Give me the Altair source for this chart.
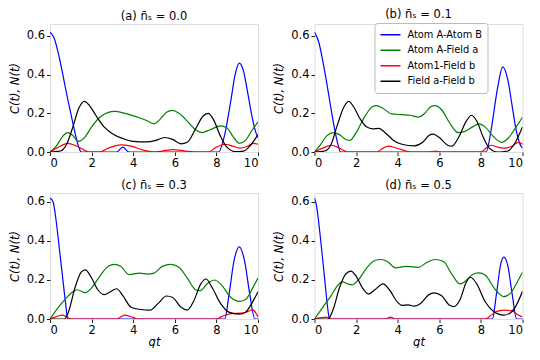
import altair as alt
import pandas as pd

SERIES = ["Atom A-Atom B", "Atom A-Field a", "Atom1-Field b", "Field a-Field b"]
COLORS = ["#0000ff", "#008000", "#ff0000", "#000000"]
TITLES = ["(a) n\u0304\u209b = 0.0", "(b) n\u0304\u209b = 0.1", "(c) n\u0304\u209b = 0.3", "(d) n\u0304\u209b = 0.5"]
X_TICKS = [0, 2, 4, 6, 8, 10]
Y_TICKS = [0.0, 0.2, 0.4, 0.6]

# panel (a)
A_AB = [(0, 0.62), (0.2, 0.59), (0.4, 0.51), (0.6, 0.41), (0.8, 0.30), (1.0, 0.20), (1.2, 0.10), (1.4, 0.02), (1.5, 0.0),
        (3.2, 0.0), (3.5, 0.025), (3.8, 0.0), (8.1, 0.0), (8.4, 0.09), (8.7, 0.27), (8.9, 0.40), (9.1, 0.46), (9.3, 0.42),
        (9.5, 0.31), (9.7, 0.19), (9.9, 0.10), (10, 0.075)]
A_AF = [(0, 0.0), (0.3, 0.03), (0.6, 0.08), (0.85, 0.10), (1.1, 0.085), (1.35, 0.055), (1.7, 0.08), (2.0, 0.13), (2.4, 0.18),
        (2.8, 0.205), (3.1, 0.21), (3.6, 0.20), (4.2, 0.18), (4.7, 0.16), (5.0, 0.145), (5.3, 0.17), (5.6, 0.205), (5.9, 0.215),
        (6.2, 0.20), (6.6, 0.16), (7.0, 0.115), (7.3, 0.10), (7.7, 0.115), (8.2, 0.135), (8.5, 0.125), (8.8, 0.08), (9.1, 0.045),
        (9.4, 0.06), (9.7, 0.11), (10, 0.155)]
A_A1F = [(0, 0.0), (0.4, 0.025), (0.85, 0.045), (1.3, 0.03), (1.9, 0.0), (2.4, 0.0), (2.8, 0.02), (3.4, 0.037), (3.9, 0.03),
         (4.5, 0.01), (5.0, 0.0), (5.4, 0.005), (5.9, 0.012), (6.5, 0.005), (7.0, 0.0), (7.6, 0.0), (8.0, 0.025), (8.4, 0.04),
         (8.8, 0.03), (9.1, 0.02), (9.5, 0.03), (9.8, 0.045), (10, 0.04)]
A_FF = [(0, 0.0), (0.5, 0.005), (0.8, 0.04), (1.1, 0.13), (1.4, 0.23), (1.65, 0.262), (1.9, 0.24), (2.2, 0.19), (2.6, 0.13),
        (3.0, 0.095), (3.5, 0.07), (4.0, 0.055), (4.6, 0.052), (5.1, 0.06), (5.5, 0.075), (5.9, 0.065), (6.3, 0.042),
        (6.6, 0.05), (7.0, 0.12), (7.35, 0.185), (7.6, 0.20), (7.85, 0.17), (8.2, 0.08), (8.5, 0.025), (8.9, 0.002),
        (9.3, 0.005), (9.6, 0.03), (10, 0.09)]

# panel (b)
B_AB = [(0, 0.62), (0.2, 0.57), (0.4, 0.47), (0.6, 0.35), (0.8, 0.22), (1.0, 0.10), (1.15, 0.03), (1.25, 0.0),
        (8.25, 0.0), (8.5, 0.12), (8.8, 0.33), (9.05, 0.44), (9.3, 0.37), (9.5, 0.24), (9.7, 0.11), (9.9, 0.035), (10, 0.02)]
B_AF = [(0, 0.0), (0.3, 0.04), (0.6, 0.085), (0.9, 0.10), (1.2, 0.09), (1.5, 0.065), (1.7, 0.06), (2.0, 0.10), (2.4, 0.18),
        (2.8, 0.235), (3.0, 0.24), (3.3, 0.225), (3.7, 0.197), (4.2, 0.193), (4.6, 0.19), (5.0, 0.18), (5.3, 0.20),
        (5.6, 0.235), (5.8, 0.24), (6.1, 0.22), (6.5, 0.15), (6.9, 0.10), (7.2, 0.105), (7.6, 0.13), (7.9, 0.145),
        (8.2, 0.13), (8.6, 0.08), (9.0, 0.05), (9.3, 0.07), (9.7, 0.13), (10, 0.18)]
B_A1F = [(0, 0.0), (0.4, 0.02), (0.8, 0.035), (1.2, 0.02), (1.6, 0.0), (3.0, 0.0), (3.3, 0.02), (3.55, 0.03), (3.9, 0.022),
         (4.4, 0.005), (4.6, 0.0), (5.5, 0.0), (5.8, 0.005), (6.1, 0.0), (8.0, 0.0), (8.3, 0.025), (8.5, 0.035),
         (8.8, 0.025), (9.1, 0.02), (9.5, 0.03), (9.8, 0.05), (10, 0.04)]
B_FF = [(0, 0.0), (0.5, 0.005), (0.8, 0.04), (1.1, 0.14), (1.4, 0.23), (1.65, 0.262), (1.9, 0.23), (2.2, 0.17), (2.5, 0.13),
        (2.8, 0.12), (3.1, 0.122), (3.4, 0.10), (3.8, 0.06), (4.2, 0.04), (4.8, 0.032), (5.2, 0.05), (5.5, 0.085),
        (5.7, 0.092), (6.0, 0.075), (6.4, 0.035), (6.6, 0.03), (6.9, 0.07), (7.3, 0.16), (7.55, 0.19), (7.8, 0.16),
        (8.1, 0.08), (8.4, 0.02), (8.8, 0.0), (9.3, 0.005), (9.6, 0.04), (10, 0.13)]

# panel (c)
C_AB = [(0, 0.62), (0.15, 0.60), (0.3, 0.50), (0.45, 0.36), (0.6, 0.22), (0.75, 0.08), (0.85, 0.0), (8.4, 0.0),
        (8.6, 0.12), (8.85, 0.30), (9.1, 0.37), (9.35, 0.30), (9.6, 0.13), (9.85, 0.0), (10, 0.0)]
C_AF = [(0, 0.0), (0.4, 0.06), (0.8, 0.11), (1.1, 0.14), (1.3, 0.15), (1.7, 0.135), (2.0, 0.16), (2.4, 0.22), (2.8, 0.27),
        (3.1, 0.28), (3.4, 0.27), (3.8, 0.228), (4.3, 0.235), (4.7, 0.23), (5.0, 0.235), (5.4, 0.27), (5.8, 0.28),
        (6.2, 0.265), (6.6, 0.21), (7.0, 0.15), (7.2, 0.145), (7.6, 0.185), (7.9, 0.20), (8.2, 0.18), (8.7, 0.11),
        (9.1, 0.09), (9.4, 0.10), (9.8, 0.17), (10, 0.21)]
C_A1F = [(0, 0.0), (0.3, 0.012), (0.6, 0.02), (0.9, 0.005), (1.0, 0.0), (3.2, 0.0), (3.6, 0.02), (4.0, 0.008), (4.2, 0.0),
         (8.0, 0.0), (8.3, 0.015), (8.7, 0.028), (9.2, 0.03), (9.5, 0.038), (9.75, 0.048), (9.9, 0.03), (10, 0.01)]
C_FF = [(0, 0.0), (0.7, 0.0), (0.9, 0.04), (1.2, 0.16), (1.5, 0.24), (1.7, 0.252), (2.0, 0.21), (2.3, 0.15), (2.6, 0.125),
        (2.9, 0.14), (3.2, 0.155), (3.5, 0.12), (3.9, 0.06), (4.3, 0.05), (4.8, 0.045), (5.2, 0.08), (5.6, 0.118),
        (5.9, 0.11), (6.3, 0.06), (6.6, 0.046), (6.9, 0.09), (7.25, 0.18), (7.5, 0.205), (7.8, 0.16), (8.2, 0.08),
        (8.6, 0.035), (9.1, 0.025), (9.4, 0.035), (9.7, 0.08), (10, 0.14)]

# panel (d)
D_AB = [(0, 0.62), (0.1, 0.58), (0.25, 0.45), (0.4, 0.30), (0.55, 0.14), (0.68, 0.02), (0.72, 0.0), (8.55, 0.0),
        (8.75, 0.13), (8.95, 0.28), (9.1, 0.317), (9.3, 0.27), (9.5, 0.13), (9.72, 0.0), (10, 0.0)]
D_AF = [(0, 0.0), (0.4, 0.06), (0.8, 0.12), (1.1, 0.17), (1.35, 0.19), (1.6, 0.18), (1.8, 0.175), (2.1, 0.20), (2.5, 0.26),
        (2.9, 0.30), (3.2, 0.305), (3.5, 0.295), (3.9, 0.262), (4.4, 0.27), (5.0, 0.265), (5.4, 0.29), (5.8, 0.305),
        (6.2, 0.295), (6.6, 0.23), (7.0, 0.18), (7.2, 0.19), (7.6, 0.228), (7.9, 0.236), (8.2, 0.225), (8.7, 0.15),
        (9.1, 0.115), (9.4, 0.13), (9.8, 0.20), (10, 0.24)]
D_A1F = [(0, 0.0), (0.3, 0.007), (0.55, 0.01), (0.75, 0.003), (0.85, 0.0), (3.4, 0.0), (3.65, 0.01), (3.9, 0.0),
         (8.2, 0.0), (8.5, 0.02), (8.8, 0.04), (9.2, 0.045), (9.5, 0.042), (9.8, 0.02), (10, 0.01)]
D_FF = [(0, 0.0), (0.65, 0.0), (0.9, 0.05), (1.2, 0.16), (1.5, 0.23), (1.75, 0.245), (2.0, 0.22), (2.3, 0.16), (2.6, 0.128),
        (2.9, 0.15), (3.3, 0.18), (3.6, 0.15), (4.0, 0.085), (4.2, 0.07), (4.5, 0.072), (4.8, 0.066), (5.1, 0.08),
        (5.5, 0.125), (5.75, 0.134), (6.1, 0.12), (6.5, 0.07), (6.7, 0.063), (7.0, 0.10), (7.3, 0.19), (7.5, 0.214),
        (7.8, 0.18), (8.2, 0.09), (8.6, 0.04), (9.1, 0.02), (9.4, 0.03), (9.7, 0.07), (10, 0.142)]

PANELS = [[A_AB, A_AF, A_A1F, A_FF], [B_AB, B_AF, B_A1F, B_FF], [C_AB, C_AF, C_A1F, C_FF], [D_AB, D_AF, D_A1F, D_FF]]
FONT = "DejaVu Sans"


def make_df(curves):
    rows = []
    for name, pts in zip(SERIES, curves):
        for i, (t, v) in enumerate(pts):
            rows.append({"t": t, "v": v, "series": name, "k": i})
    return pd.DataFrame(rows)


def panel(idx, ymax, height, x_title, legend):
    df = make_df(PANELS[idx])
    xaxis = dict(values=X_TICKS, format="d", labelFontSize=11.5, labelFont=FONT, labelColor="black",
                 tickColor="#222", tickSize=3.5, domain=False, grid=False, labelPadding=2,
                 titleFontSize=11.5, titleFont=FONT, titleFontStyle="italic", titleFontWeight="normal",
                 titleColor="black", titlePadding=0)
    xaxis["title"] = "gt" if x_title else None
    yaxis = dict(values=Y_TICKS, format=".1f", labelFontSize=11.5, labelFont=FONT, labelColor="black",
                 tickColor="#222", tickSize=3.5, domain=False, grid=False, labelPadding=2,
                 title="C(t), N(t)", titleFontSize=11.5, titleFont=FONT, titleFontStyle="italic",
                 titleFontWeight="normal", titleColor="black", titlePadding=6)
    if legend:
        leg = alt.Legend(orient="none", legendX=60, legendY=-1, title=None, symbolType="stroke",
                         symbolSize=400, symbolStrokeWidth=1.5, labelFontSize=9.8, labelFont=FONT,
                         labelColor="black", fillColor="white", strokeColor="#bbbbbb", cornerRadius=3,
                         padding=5, clipHeight=13.5, rowPadding=1.5, labelOffset=6)
    else:
        leg = None
    color = alt.Color("series:N", scale=alt.Scale(domain=SERIES, range=COLORS), legend=leg)
    return alt.Chart(df, title=alt.Title(TITLES[idx], fontSize=11.5, font=FONT, fontWeight="normal",
                                          color="black", offset=2)).mark_line(
        strokeWidth=1.2, interpolate="monotone", clip=True
    ).encode(
        x=alt.X("t:Q", scale=alt.Scale(domain=[0, 10], nice=False, zero=False), axis=alt.Axis(**xaxis)),
        y=alt.Y("v:Q", scale=alt.Scale(domain=[0, ymax], nice=False), axis=alt.Axis(**yaxis)),
        color=color,
        order="k:Q",
    ).properties(width=208, height=height)


chart = alt.concat(
    panel(0, 0.662, 128, False, False), panel(1, 0.662, 128, False, True),
    panel(2, 0.646, 126, True, False), panel(3, 0.646, 126, True, False),
    columns=2, spacing={"row": 41, "column": 56.5}, bounds="flush",
).resolve_scale(color="independent").resolve_legend(color="independent").configure_view(
    stroke="#555", strokeWidth=1
).configure(background="white", padding=0)

chart.save("out.html", embed_options={"renderer": "svg", "actions": False})
